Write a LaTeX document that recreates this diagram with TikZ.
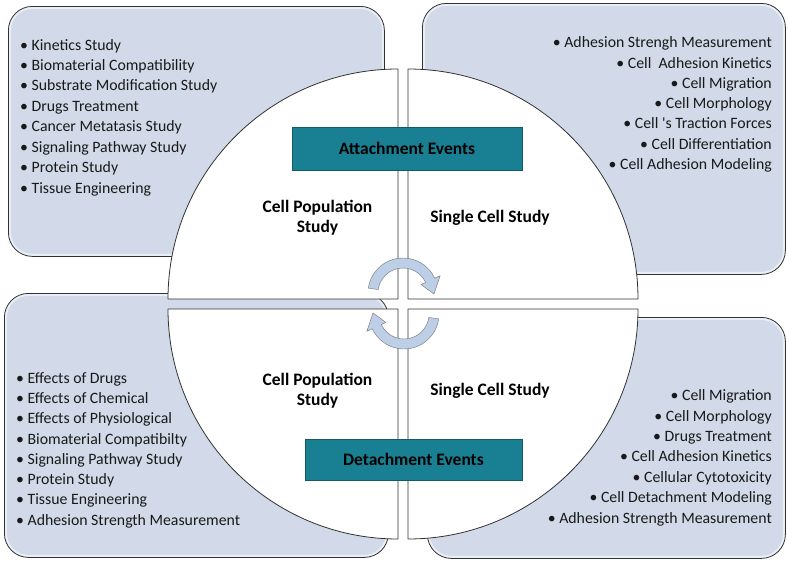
\documentclass[tikz,border=0pt]{standalone}
\usepackage{fontspec}
\setmainfont{Carlito}
\definecolor{panelcolor}{RGB}{210,218,233}
\definecolor{edgecolor}{RGB}{50,50,50}
\definecolor{bannercolor}{RGB}{24,128,146}
\definecolor{turncolor}{RGB}{188,207,230}
\tikzset{
	panel/.style={
		rectangle,
		rounded corners=24pt,
		thick,
		draw=edgecolor,
		fill=panelcolor,
		anchor=north west,
		inner sep=0pt,
		path picture={
			\draw[white,opacity=.55,line width=5pt,rounded corners=24pt]
				(path picture bounding box.south west) rectangle (path picture bounding box.north east);
		}
	},
	quarter/.style={
		thick,
		draw=edgecolor,
		fill=white
	},
	banner/.style={
		rectangle,
		draw=bannercolor!70!black,
		fill=bannercolor,
		text=black,
		font=\bfseries\fontsize{17.5}{20}\selectfont
	},
	study/.style={
		align=center,
		inner sep=0pt,
		font=\bfseries\fontsize{17.5}{20}\selectfont
	},
	item/.style={
		inner sep=0pt,
		text=black!90,
		font=\fontsize{15.8}{19}\selectfont
	},
	turn/.style={
		draw=gray!90!black,
		fill=turncolor,
		line join=round
	}
}

\begin{document}
\begin{tikzpicture}[x=1pt,y=-1pt]
	\useasboundingbox (0,0) rectangle (788,565);
	% corner panels
	\node[panel,minimum width=376pt,minimum height=250pt] (tlpanel) at (8,6) {};
	\node[panel,minimum width=363pt,minimum height=271pt] (trpanel) at (422,3) {};
	\node[panel,minimum width=384pt,minimum height=264pt] (blpanel) at (4,293) {};
	\node[panel,minimum width=358pt,minimum height=241pt] (brpanel) at (427,317) {};
	
	% the four quarters of the circle
	\draw[quarter] (398,299) -- (168,299) arc[start angle=180,end angle=270,radius=230] -- cycle;
	\draw[quarter] (408,299) -- (408,69) arc[start angle=270,end angle=360,radius=230] -- cycle;
	\draw[quarter] (398,309) -- (398,539) arc[start angle=90,end angle=180,radius=230] -- cycle;
	\draw[quarter] (408,309) -- (638,309) arc[start angle=0,end angle=90,radius=230] -- cycle;
	
	\node[banner,minimum width=230pt,minimum height=43pt] (attach) at (407,148.5) {Attachment Events};
	\node[banner,minimum width=217pt,minimum height=41pt] (detach) at (413.5,459.5) {Detachment Events};
	
	\node[study] (popup) at (317.5,218) {Cell Population\\Study};
	\node[study,anchor=base] (singleup) at (490,222.7) {Single Cell Study};
	\node[study] (popdown) at (317.5,391) {Cell Population\\Study};
	\node[study,anchor=base] (singledown) at (490,395) {Single Cell Study};
	
	% lists
	\foreach \txt [count=\i] in {Kinetics Study,Biomaterial Compatibility,Substrate Modification Study,Drugs Treatment,Cancer Metatasis Study,Signaling Pathway Study,Protein Study,Tissue Engineering}
		\node[item,anchor=base west] (tl\i) at (20,{50+20.45*(\i-1)}) {\textbullet\ \txt};
	\foreach \txt [count=\i] in {Adhesion Strengh Measurement,Cell~ Adhesion Kinetics,Cell Migration,Cell Morphology,Cell \textquotesingle{}s Traction Forces,Cell Differentiation,Cell Adhesion Modeling}
		\node[item,anchor=base east] (tr\i) at (772,{47.7+20.3*(\i-1)}) {\textbullet\ \txt};
	\foreach \txt [count=\i] in {Effects of Drugs,Effects of Chemical,Effects of Physiological,Biomaterial Compatibilty,Signaling Pathway Study,Protein Study,Tissue Engineering,Adhesion Strength Measurement}
		\node[item,anchor=base west] (bl\i) at (16,{383.3+20.25*(\i-1)}) {\textbullet\ \txt};
	\foreach \txt [count=\i] in {Cell Migration,Cell Morphology,Drugs Treatment,Cell Adhesion Kinetics,Cellular Cytotoxicity,Cell Detachment Modeling,Adhesion Strength Measurement}
		\node[item,anchor=base east] (br\i) at (772,{400.7+20.43*(\i-1)}) {\textbullet\ \txt};
	
	% turning arrows
	\begin{scope}[shift={(403,293)}]
		\draw[turn] (188:35) arc[start angle=188,end angle=335,radius=35] -- (335:41) -- (2:31) -- (335:20) -- (335:25) arc[start angle=335,end angle=188,radius=25] -- cycle;
	\end{scope}
	\begin{scope}[shift={(404,314)},rotate=180]
		\draw[turn] (188:35) arc[start angle=188,end angle=335,radius=35] -- (335:41) -- (2:31) -- (335:20) -- (335:25) arc[start angle=335,end angle=188,radius=25] -- cycle;
	\end{scope}
\end{tikzpicture}
\end{document}
